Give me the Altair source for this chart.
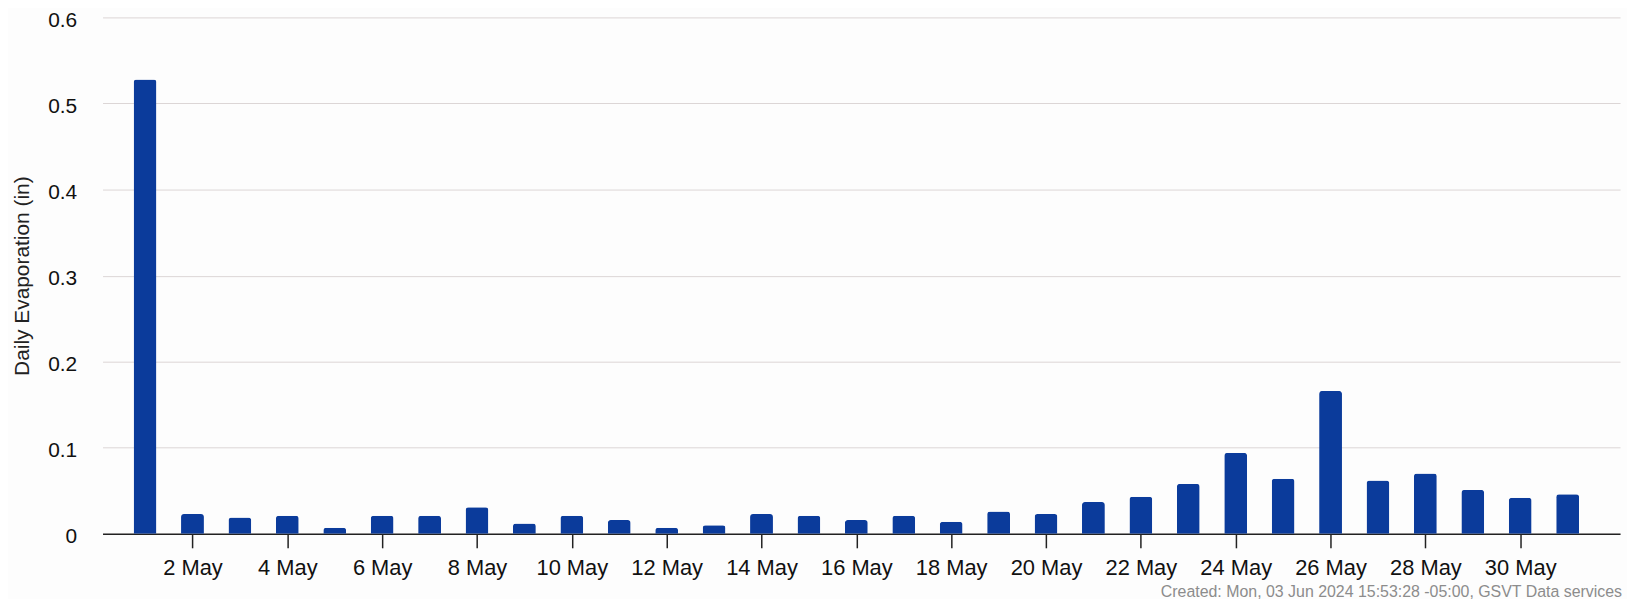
import altair as alt
import pandas as pd

# Data
days = list(range(1, 32))
evaporation = [0.528, 0.023, 0.019, 0.021, 0.007, 0.021, 0.021, 0.031, 0.012, 0.021,
               0.016, 0.007, 0.010, 0.023, 0.021, 0.016, 0.021, 0.014, 0.026, 0.023,
               0.037, 0.043, 0.058, 0.094, 0.064, 0.166, 0.062, 0.070, 0.051, 0.042,
               0.046]
tick_days = list(range(2, 31, 2))
month_label = "May"
y_ticks = [0, 0.1, 0.2, 0.3, 0.4, 0.5, 0.6]
y_title = "Daily Evaporation (in)"
footer = "Created: Mon, 03 Jun 2024 15:53:28 -05:00, GSVT Data services"

df = pd.DataFrame({"day": days, "value": evaporation})

W, H = 1525, 519
FONT = "Liberation Sans"

bars = alt.Chart(df).mark_bar(
    size=23, color="#0b3b9b", cornerRadiusTopLeft=3, cornerRadiusTopRight=3
).encode(
    x=alt.X("day:Q",
            scale=alt.Scale(domain=[0.208, 32.0], nice=False, zero=False),
            axis=alt.Axis(values=tick_days,
                          labelExpr=f"datum.value + ' {month_label}'",
                          title=None, grid=False, tickSize=14, tickColor="#222",
                          tickWidth=1.5, domainColor="#222", domainWidth=1.5,
                          labelFontSize=22, labelFont=FONT, labelColor="#111",
                          labelPadding=10, labelFlush=False, labelOverlap=False)),
    y=alt.Y("value:Q",
            scale=alt.Scale(domain=[0, 0.6], nice=False),
            axis=alt.Axis(values=y_ticks, format=".1~f", title=y_title,
                          grid=True, gridColor="#dcd6d6", gridWidth=1,
                          domain=False, ticks=False, tickSize=0,
                          labelFontSize=21, labelFont=FONT, labelColor="#111",
                          labelPadding=26, labelOffset=3, labelBaseline="middle",
                          titleFontSize=21, titleFont=FONT, titleFontWeight="normal",
                          titleColor="#222", titleX=-80, titleY=H / 2,
                          titleAngle=-90, titleAlign="center", titleBaseline="middle")),
)

foot = alt.Chart(pd.DataFrame({"t": [footer]})).mark_text(
    align="right", baseline="alphabetic", fontSize=16, font=FONT, color="#8c8c8c"
).encode(
    x=alt.value(1527), y=alt.value(582), text="t:N"
)

chart = alt.layer(bars, foot).properties(
    width=W, height=H,
    padding={"left": 95, "top": 8, "right": 7, "bottom": 64},
    autosize=alt.AutoSizeParams(type="none"),
    background="#fdfdfd",
).configure_view(stroke=None)

chart.save("out.html", embed_options={"renderer": "svg", "actions": False})
